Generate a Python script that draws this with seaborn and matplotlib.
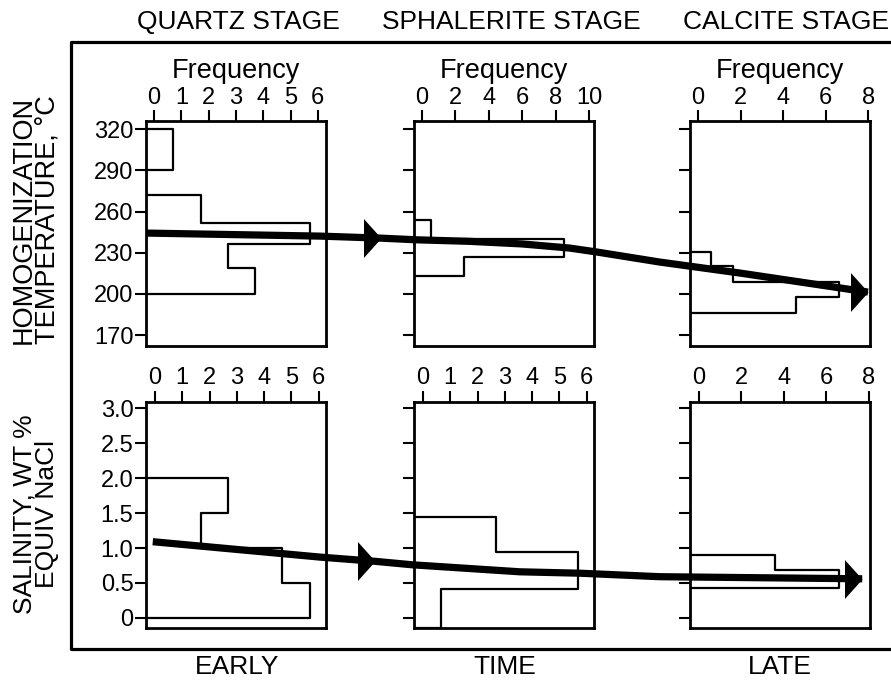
import numpy as np
import pandas as pd
import matplotlib
matplotlib.use("Agg")
import matplotlib.pyplot as plt
from matplotlib.lines import Line2D
import seaborn as sns

# ---------------- data ----------------
stages = ["QUARTZ STAGE", "SPHALERITE STAGE", "CALCITE STAGE"]
time_labels = ["EARLY", "TIME", "LATE"]

# homogenization temperature histograms (bin edges in degC, frequency per bin)
temp_edges_quartz = [190, 200, 219, 236, 252, 272, 290, 320, 330]
temp_freq_quartz = [0, 4, 3, 6, 2, 0, 1, 0]
temp_edges_sphal = [200, 213, 227, 240, 254, 265]
temp_freq_sphal = [0, 3, 9, 1, 0]
temp_edges_calc = [175, 186, 197.7, 208.6, 220.3, 230.5, 240]
temp_freq_calc = [0, 5, 7, 2, 1, 0]

# salinity histograms (wt % NaCl equiv)
sal_edges_quartz = [-0.3, 0.0, 0.5, 1.0, 1.5, 2.0, 2.5]
sal_freq_quartz = [0, 6, 5, 2, 3, 0]
sal_edges_sphal = [-0.3, -0.143, 0.42, 0.94, 1.45, 1.8]
sal_freq_sphal = [0, 1, 6, 3, 0]
sal_edges_calc = [0.2, 0.43, 0.68, 0.905, 1.2]
sal_freq_calc = [0, 7, 4, 0]

# frequency tick labels per stage
temp_freq_ticks = [[0, 1, 2, 3, 4, 5, 6], [0, 2, 4, 6, 8, 10], [0, 2, 4, 6, 8]]
sal_freq_ticks = [[0, 1, 2, 3, 4, 5, 6], [0, 1, 2, 3, 4, 5, 6], [0, 2, 4, 6, 8]]
temp_ticks = [320, 290, 260, 230, 200, 170]
sal_ticks = [3.0, 2.5, 2.0, 1.5, 1.0, 0.5, 0]
sal_tick_labels = ["3.0", "2.5", "2.0", "1.5", "1.0", "0.5", "0"]

# trend lines across time (0 = early, 1 = late)
trend_time_temp = [0.0, 0.24, 0.325, 0.374, 0.447, 0.52, 0.586, 0.624, 0.711, 0.822, 1.0]
trend_temp = [244.3, 242.1, 240.6, 239.4, 238.3, 236.4, 233.4, 230.5, 223.2, 215.2, 201.3]
trend_time_sal = [0.008, 0.24, 0.316, 0.368, 0.517, 0.6, 0.711, 0.992]
trend_sal = [1.09, 0.87, 0.81, 0.76, 0.66, 0.64, 0.59, 0.56]
arrow_idx_temp = [2, 10]
arrow_idx_sal = [2, 7]

# ---------------- style ----------------
sns.set_theme(style="ticks")
plt.rcParams["font.family"] = ["Liberation Sans", "DejaVu Sans"]
plt.rcParams["text.color"] = "black"
plt.rcParams["axes.labelcolor"] = "black"
plt.rcParams["xtick.color"] = "black"
plt.rcParams["ytick.color"] = "black"

W, H = 891, 682
fig = plt.figure(figsize=(W / 100, H / 100), dpi=100)
fig.patch.set_facecolor("white")


def px_rect(left, top, right, bottom):
    return [left / W, 1 - bottom / H, (right - left) / W, (bottom - top) / H]


lefts = [146, 414, 690]
pw = 180
top_row = (121, 346)
bot_row = (402, 628)
temp_ylim = (162, 326)
sal_ylim = (-0.143, 3.086)
xlims = [6.6, 10.78, 8.47]
xlims_bot = [6.6, 6.6, 8.47]
tick_off_top = [0.3, 0.48, 0.38]
tick_off_bot = [0.33, 0.33, 0.42]

temp_sets = [(temp_edges_quartz, temp_freq_quartz),
             (temp_edges_sphal, temp_freq_sphal),
             (temp_edges_calc, temp_freq_calc)]
sal_sets = [(sal_edges_quartz, sal_freq_quartz),
            (sal_edges_sphal, sal_freq_sphal),
            (sal_edges_calc, sal_freq_calc)]

TICK_FS = 17
LABEL_FS = 19


def draw_hist(ax, edges, freqs):
    e = [float(v) for v in edges]
    mids = [(a + b) / 2 for a, b in zip(e[:-1], e[1:])]
    df = pd.DataFrame({"value": mids, "freq": [float(f) for f in freqs]})
    sns.histplot(data=df, y="value", weights="freq", bins=e,
                 element="step", fill=False, color="black", linewidth=1.6,
                 ax=ax)


def style_panel(ax, xmax, off, fticks, yticks, ylabels, ylim, show_ylabels, freq_label):
    ax.set_xlim(0, xmax)
    ax.set_ylim(*ylim)
    ax.set_xticks(np.array(fticks) + off)
    ax.set_xticklabels([str(t) for t in fticks], fontsize=TICK_FS)
    ax.xaxis.tick_top()
    ax.xaxis.set_label_position("top")
    ax.tick_params(axis="x", top=True, bottom=False, labeltop=True, labelbottom=False,
                   direction="out", length=8, width=1.5, pad=1)
    ax.set_yticks(yticks)
    if show_ylabels:
        ax.set_yticklabels(ylabels, fontsize=TICK_FS)
    else:
        ax.set_yticklabels([])
    ax.tick_params(axis="y", left=True, right=False, direction="out",
                   length=8, width=1.5, pad=1)
    for s in ax.spines.values():
        s.set_visible(True)
        s.set_linewidth(2.0)
        s.set_color("black")
    ax.set_ylabel("")
    if freq_label:
        ax.set_xlabel("Frequency", fontsize=LABEL_FS + 0.5, labelpad=6)
    else:
        ax.set_xlabel("")
    ax.set_facecolor("white")


for i in range(3):
    ax = fig.add_axes(px_rect(lefts[i], top_row[0], lefts[i] + pw, top_row[1]))
    draw_hist(ax, *temp_sets[i])
    style_panel(ax, xlims[i], tick_off_top[i], temp_freq_ticks[i], temp_ticks,
                [str(t) for t in temp_ticks], temp_ylim, i == 0, True)

    ax = fig.add_axes(px_rect(lefts[i], bot_row[0], lefts[i] + pw, bot_row[1]))
    draw_hist(ax, *sal_sets[i])
    style_panel(ax, xlims_bot[i], tick_off_bot[i], sal_freq_ticks[i], sal_ticks,
                sal_tick_labels, sal_ylim, i == 0, False)

# arrowhead marker: tip at the data point
arrow_marker = [(-0.9, -1.0), (0.0, 0.0), (-0.9, 1.0), (-0.9, -1.0)]


def trend(row, times, vals, idx, ylim):
    ov = fig.add_axes(px_rect(147, row[0], 868, row[1]), zorder=10)
    ov.set_xlim(0, 1)
    ov.set_ylim(*ylim)
    ov.axis("off")
    ov.patch.set_alpha(0)
    df = pd.DataFrame({"t": times, "v": vals})
    sns.lineplot(data=df, x="t", y="v", color="black", linewidth=5.2,
                 ax=ov, sort=False, clip_on=False, solid_capstyle="butt")
    ov.plot([times[k] for k in idx], [vals[k] for k in idx], linestyle="none",
            marker=arrow_marker, markersize=28, color="black",
            markeredgewidth=0, clip_on=False)


trend(top_row, trend_time_temp, trend_temp, arrow_idx_temp, temp_ylim)
trend(bot_row, trend_time_sal, trend_sal, arrow_idx_sal, sal_ylim)

# outer frame (open on the right edge of the figure)
fx = [W + 5, 71, 71, W + 5]
fy = [42, 42, 649, 649]
fig.add_artist(Line2D([x / W for x in fx], [1 - y / H for y in fy],
                      color="black", linewidth=2.3, transform=fig.transFigure))

# stage titles
for x, s in zip([238, 511, 786], stages):
    fig.text(x / W, 1 - 22 / H, s, ha="center", va="center", fontsize=LABEL_FS)

# time labels
for x, s in zip([237, 505, 780], time_labels):
    fig.text(x / W, 1 - 667 / H, s, ha="center", va="center", fontsize=LABEL_FS)

# y axis labels
fig.text(36 / W, 1 - 220 / H, "HOMOGENIZATION\nTEMPERATURE, °C", rotation=90,
         ha="center", va="center", multialignment="center", fontsize=LABEL_FS + 0.5,
         linespacing=0.9)
fig.text(36 / W, 1 - 514 / H, "SALINITY, WT %\nEQUIV NaCl", rotation=90,
         ha="center", va="center", multialignment="center", fontsize=LABEL_FS,
         linespacing=0.9)

fig.savefig("out.png", dpi=100, facecolor="white")
